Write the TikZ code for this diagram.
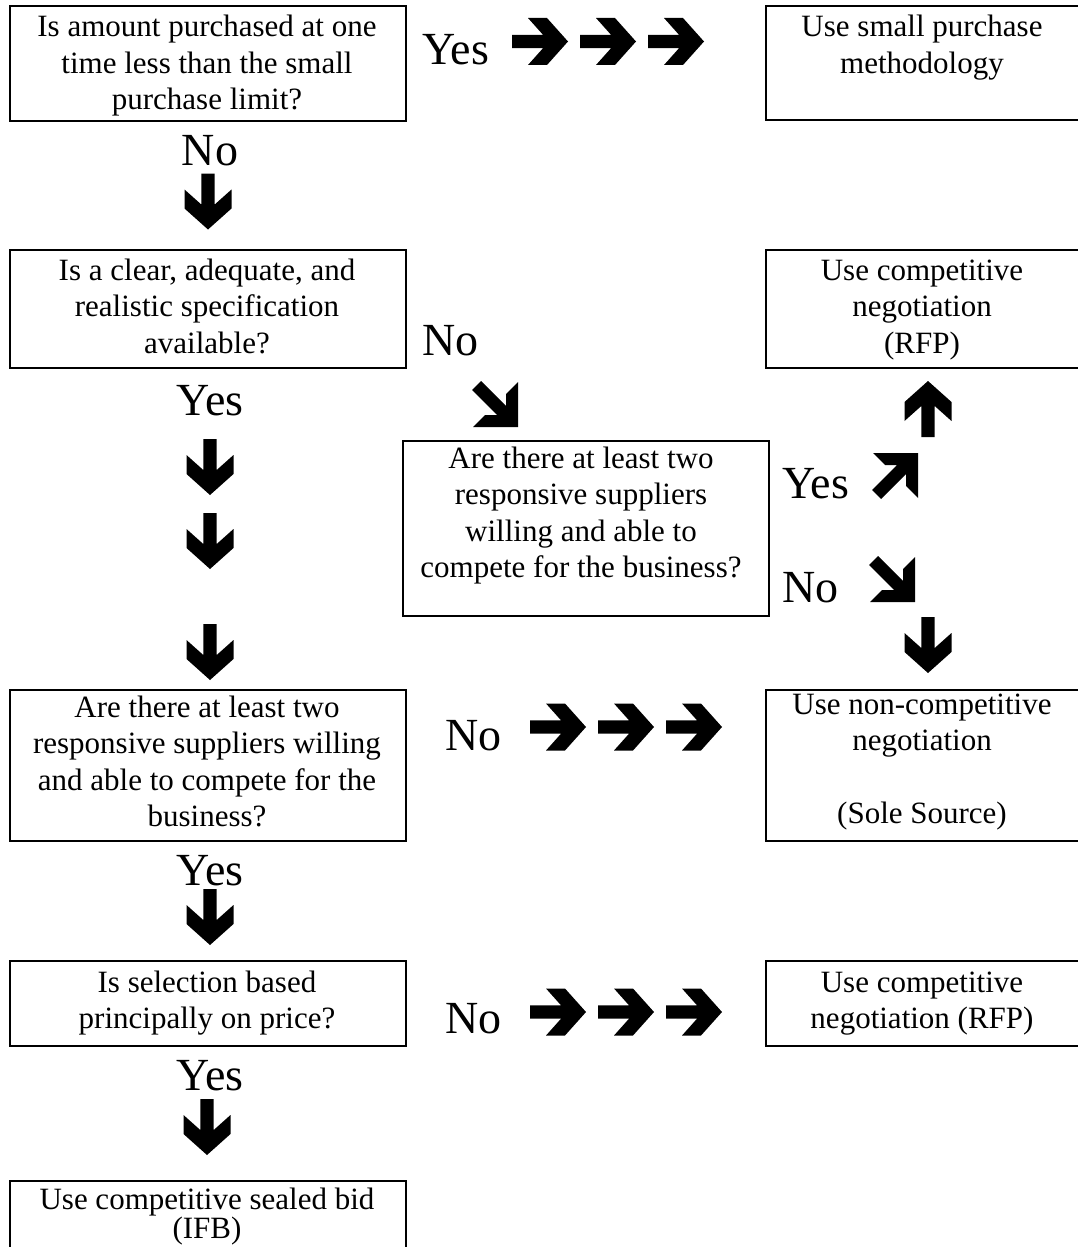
\documentclass[tikz,border=0pt]{standalone}
\usepackage{fontspec}
\setmainfont{Liberation Serif}
\usetikzlibrary{calc}
\newcommand\bxfont{\fontsize{31}{36.5}\selectfont}
\newcommand\lbfont{\fontsize{46}{50}\selectfont}
\tikzset{
  box/.style={draw, line width=2.2pt, inner sep=0pt, anchor=north west},
  txt/.style={inner sep=0pt, anchor=base, font=\bxfont},
  lbl/.style={inner sep=0pt, anchor=base west, font=\lbfont},
  clbl/.style={inner sep=0pt, anchor=base, font=\lbfont},
  rarr/.pic={\fill (-28pt,6.7pt) -- (3pt,6.7pt) -- (-12pt,23.5pt) -- (7pt,23.5pt) -- (28pt,0pt)
     -- (7pt,-23.5pt) -- (-12pt,-23.5pt) -- (3pt,-6.7pt) -- (-28pt,-6.7pt) -- cycle;},
  sarr/.pic={\fill (-46pt,37pt) -- (-37pt,46pt) -- (-12pt,21pt) -- (-12pt,33pt) -- (0pt,45pt)
     -- (0pt,0pt) -- (-45pt,0pt) -- (-33pt,12pt) -- (-21pt,12pt) -- cycle;}
}
% name, x1, y1, x2, y2, first baseline, text, text-centre shift
\newcommand\flowbox[8][0]{%
  \node[box, minimum width={#5-#3}, minimum height={#6-#4}] (#2) at (#3,#4) {};
  \node[txt] (#2t) at ({(#3+#5)/2+#1},#7) {\parbox[t]{\dimexpr #5pt-#3pt\relax}{\centering #8}};
}
\begin{document}
\begin{tikzpicture}[x=1pt,y=-1pt]
\useasboundingbox (0,0) rectangle (1078,1247);

\flowbox{b1}{9}{5}{405}{120}{37}{Is amount purchased at one\\time less than the small\\purchase limit?}
\flowbox{b2}{765}{5}{1079}{119}{37}{Use small purchase\\methodology}
\flowbox{b3}{9}{249}{405}{367}{280}{Is a clear, adequate, and\\realistic specification\\available?}
\flowbox{b4}{765}{249}{1079}{367}{280}{Use competitive\\negotiation\\(RFP)}
\flowbox[-4]{b5}{402}{440}{768}{615}{468}{Are there at least two\\responsive suppliers\\willing and able to\\compete for the business?}
\flowbox{b6}{9}{689}{405}{840}{717}{Are there at least two\\responsive suppliers willing\\and able to compete for the\\business?}
\flowbox{b7}{765}{689}{1079}{840}{714}{Use non-competitive\\negotiation\\\mbox{}\\(Sole Source)}
\flowbox{b8}{9}{960}{405}{1045}{992}{Is selection based\\principally on price?}
\flowbox{b9}{765}{960}{1079}{1045}{992}{Use competitive\\negotiation (RFP)}
\flowbox{b10}{9}{1180}{405}{1300}{1209}{Use competitive sealed bid\\[-7pt](IFB)}

% labels
\node[lbl] (y1) at (422,65) {Yes};
\node[clbl] (n1) at (210,165) {No};
\node[lbl] (n2) at (422,355) {No};
\node[clbl] (y2) at (210,415) {Yes};
\node[lbl] (y3) at (782,498) {Yes};
\node[lbl] (n3) at (782,602) {No};
\node[lbl] (n4) at (445,750) {No};
\node[clbl] (y4) at (210,885) {Yes};
\node[lbl] (n5) at (445,1033) {No};
\node[clbl] (y5) at (210,1090) {Yes};

% row arrows
\pic (r11) at (540,41.5) {rarr};
\pic (r12) at (608,41.5) {rarr};
\pic (r13) at (676,41.5) {rarr};
\pic (r21) at (558,727) {rarr};
\pic (r22) at (626,727) {rarr};
\pic (r23) at (694,727) {rarr};
\pic (r31) at (558,1012) {rarr};
\pic (r32) at (626,1012) {rarr};
\pic (r33) at (694,1012) {rarr};

% down arrows left column
\pic[rotate=-90] (d1) at (208,201.5) {rarr};
\pic[rotate=-90] (d2) at (210,467) {rarr};
\pic[rotate=-90] (d3) at (210,541) {rarr};
\pic[rotate=-90] (d4) at (210,652) {rarr};
\pic[rotate=-90] (d5) at (210,917) {rarr};
\pic[rotate=-90] (d6) at (207,1127) {rarr};

% right column arrows
\pic[rotate=90] (u1) at (928,409) {rarr};
\pic[rotate=-90] (d7) at (928,645) {rarr};

% diagonal arrows
\pic (s1) at (518,427) {sarr};
\pic[rotate=90] (ne1) at (918,453) {sarr};
\pic (s2) at (915,602) {sarr};
\end{tikzpicture}
\end{document}
